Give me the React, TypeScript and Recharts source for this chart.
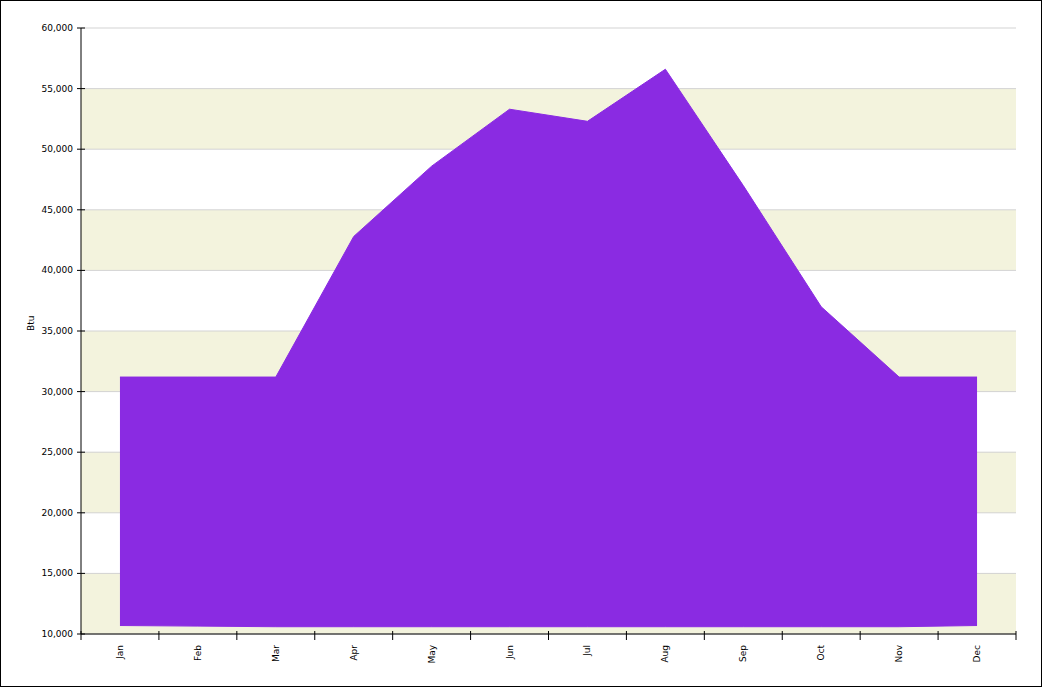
import React from 'react';
import { AreaChart, Area, XAxis, YAxis, CartesianGrid } from 'recharts';

const MONTHS = ['Jan', 'Feb', 'Mar', 'Apr', 'May', 'Jun', 'Jul', 'Aug', 'Sep', 'Oct', 'Nov', 'Dec'];
const LOW_BTU = [10700, 10650, 10600, 10600, 10600, 10600, 10600, 10600, 10600, 10600, 10600, 10700];
const HIGH_BTU = [31200, 31200, 31200, 42800, 48600, 53300, 52300, 56600, 47000, 37000, 31200, 31200];
const Y_TICKS = [10000, 15000, 20000, 25000, 30000, 35000, 40000, 45000, 50000, 55000, 60000];

const data = MONTHS.map((m, i) => ({ month: m, range: [LOW_BTU[i], HIGH_BTU[i]] }));

const W = 1040;
const H = 685;
const MARGIN = { top: 27, right: 25, left: 0, bottom: 0 };
const Y_AXIS_W = 80;
const X_AXIS_H = 52;
const PLOT_W = W - MARGIN.right - Y_AXIS_W;
const BAND_W = PLOT_W / MONTHS.length;
const FONT = '"DejaVu Sans", Verdana, sans-serif';

const fmt = (v: number) => v.toLocaleString('en-US');

function XTick(props: any) {
  const { x, y, payload, index } = props;
  const half = BAND_W / 2;
  return (
    <g>
      <line x1={x - half} x2={x - half} y1={y - 3} y2={y + 6} stroke="#000" />
      {index === MONTHS.length - 1 && (
        <line x1={x + half} x2={x + half} y1={y - 3} y2={y + 6} stroke="#000" />
      )}
      <text
        x={x}
        y={y + 11}
        transform={`rotate(-90, ${x}, ${y + 11})`}
        textAnchor="end"
        dominantBaseline="central"
        fontSize={9}
        fontFamily={FONT}
        fill="#000"
      >
        {payload.value}
      </text>
    </g>
  );
}

function YTick(props: any) {
  const { x, y, payload } = props;
  return (
    <g>
      <line x1={x - 4} x2={x + 4} y1={y} y2={y} stroke="#000" />
      <text x={x - 8} y={y} textAnchor="end" dominantBaseline="central" fontSize={9} fontFamily={FONT} fill="#000">
        {fmt(payload.value)}
      </text>
    </g>
  );
}

export default function App() {
  return (
    <div
      style={{
        position: 'fixed',
        left: 0,
        top: 0,
        width: 1042,
        height: 687,
        boxSizing: 'border-box',
        border: '1px solid #000',
        background: '#fff',
      }}
    >
      <AreaChart width={W} height={H} data={data} margin={MARGIN}>
        <CartesianGrid vertical={false} stroke="#D3D3D3" horizontalFill={['#FFFFFF', '#F3F3DD']} fillOpacity={1} />
        <XAxis
          dataKey="month"
          padding={{ left: BAND_W / 2, right: BAND_W / 2 }}
          height={X_AXIS_H}
          tickLine={false}
          tickSize={0}
          tickMargin={0}
          axisLine={{ stroke: '#000' }}
          tick={<XTick />}
          interval={0}
        />
        <YAxis
          width={Y_AXIS_W}
          domain={[10000, 60000]}
          ticks={Y_TICKS}
          allowDataOverflow
          tickLine={false}
          tickSize={0}
          tickMargin={0}
          axisLine={{ stroke: '#000' }}
          tick={<YTick />}
          label={{
            value: 'Btu',
            angle: -90,
            position: 'insideLeft',
            offset: 30,
            style: { fontSize: 9, fontFamily: FONT, fill: '#000' },
          }}
        />
        <YAxis
          yAxisId="edge"
          orientation="right"
          width={0}
          tick={false}
          tickLine={false}
          axisLine={{ stroke: '#D3D3D3' }}
        />
        <Area
          type="linear"
          dataKey="range"
          fill="#8A2BE2"
          fillOpacity={1}
          stroke="#8A2BE2"
          strokeWidth={1}
          isAnimationActive={false}
        />
      </AreaChart>
    </div>
  );
}
